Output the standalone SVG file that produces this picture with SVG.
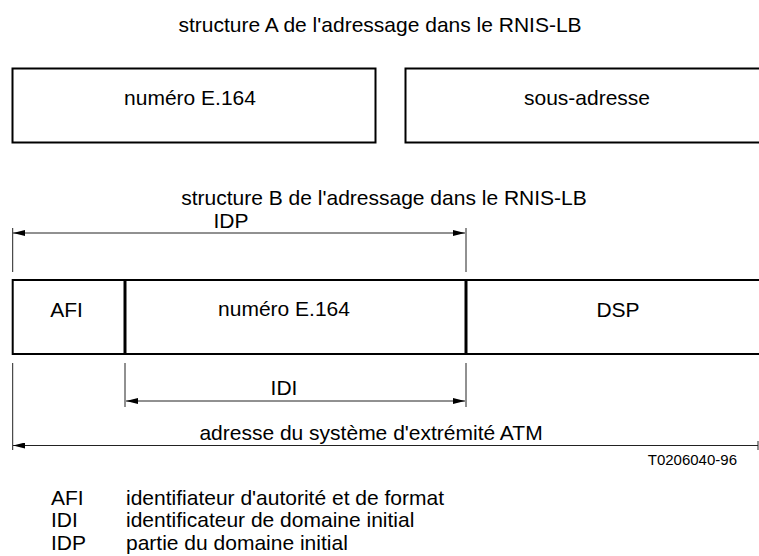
<svg xmlns="http://www.w3.org/2000/svg" width="759" height="556" viewBox="0 0 759 556">
<style>
text{font-family:"Liberation Sans",Arial,sans-serif;font-size:21px;fill:#000}
.c{text-anchor:middle}
.box{fill:none;stroke:#000;stroke-width:2}
.div{stroke:#000;stroke-width:3}
.thin{stroke:#222;stroke-width:1;fill:none}
.small{font-size:15px}
</style>
<defs>
<marker id="ah" viewBox="0 0 12 6" refX="12" refY="3" markerWidth="12" markerHeight="6" markerUnits="userSpaceOnUse" orient="auto-start-reverse">
<path d="M0,0 L12,3 L0,6 Z" fill="#000"/>
</marker>
</defs>
<rect width="759" height="556" fill="#fff"/>
<text class="c" x="380" y="32">structure A de l'adressage dans le RNIS-LB</text>
<g id="nodeA1">
<rect class="box" x="12.5" y="68.5" width="363" height="74"/>
<text class="c" x="190" y="105">numéro E.164</text>
</g>
<g id="nodeA2">
<rect class="box" x="405.5" y="68.5" width="360" height="74"/>
<text class="c" x="587" y="105">sous-adresse</text>
</g>
<text class="c" x="384" y="205">structure B de l'adressage dans le RNIS-LB</text>
<g id="rowB">
<path class="box" d="M762,280 H12.7 V354 H762"/>
<line class="div" x1="125" y1="280" x2="125" y2="354"/>
<line class="div" x1="466" y1="280" x2="466" y2="354"/>
</g>
<g id="nodeAFI"><text class="c" x="66.5" y="317">AFI</text></g>
<g id="nodeE164"><text class="c" x="284" y="316">numéro E.164</text></g>
<g id="nodeDSP"><text class="c" x="618" y="317">DSP</text></g>
<g id="connectors">
<line class="thin" x1="12.7" y1="228" x2="12.7" y2="272"/>
<line class="thin" x1="466" y1="228" x2="466" y2="272"/>
<line class="thin" x1="13" y1="233" x2="465" y2="233" marker-start="url(#ah)" marker-end="url(#ah)"/>
<line class="thin" x1="125" y1="363" x2="125" y2="407"/>
<line class="thin" x1="466" y1="363" x2="466" y2="407"/>
<line class="thin" x1="126" y1="401" x2="465" y2="401" marker-start="url(#ah)" marker-end="url(#ah)"/>
<line class="thin" x1="12.7" y1="363" x2="12.7" y2="450"/>
<line class="thin" x1="758" y1="441" x2="758" y2="450"/>
<line class="thin" x1="13" y1="445.5" x2="758" y2="445.5" marker-start="url(#ah)"/>
</g>
<text class="c" x="231" y="228">IDP</text>
<text class="c" x="284" y="395">IDI</text>
<text class="c" x="371" y="440">adresse du système d'extrémité ATM</text>
<text class="small" x="737" y="465" text-anchor="end">T0206040-96</text>
<g id="legend">
<text x="51" y="505">AFI</text><text x="126" y="505">identifiateur d'autorité et de format</text>
<text x="51" y="527">IDI</text><text x="126" y="527">identificateur de domaine initial</text>
<text x="51" y="550">IDP</text><text x="126" y="550">partie du domaine initial</text>
</g>
</svg>
